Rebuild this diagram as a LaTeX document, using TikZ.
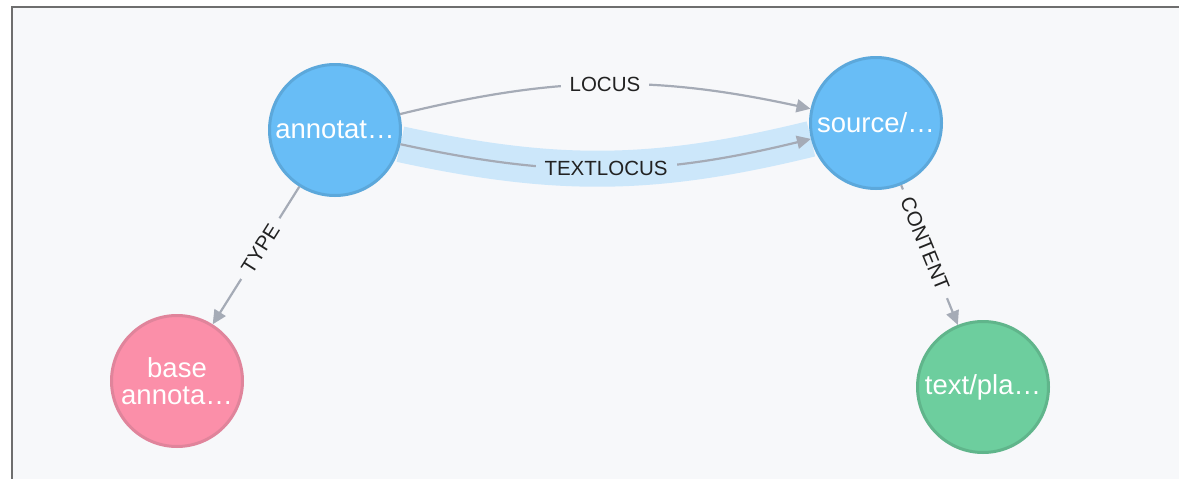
\documentclass[tikz,border=0pt]{standalone}
\usepackage{fontspec}
\setmainfont{Liberation Sans}
\usetikzlibrary{arrows.meta,backgrounds}
\definecolor{bgc}{HTML}{F7F8FA}
\definecolor{framec}{HTML}{6E6E6E}
\definecolor{bluef}{HTML}{68BDF6}
\definecolor{blueb}{HTML}{5CA8DB}
\definecolor{pinkf}{HTML}{FB8FA9}
\definecolor{pinkb}{HTML}{E0849B}
\definecolor{greenf}{HTML}{6DCE9E}
\definecolor{greenb}{HTML}{60B58B}
\definecolor{edgec}{HTML}{A5ABB6}
\definecolor{haloc}{HTML}{CCE7FA}
\definecolor{labc}{HTML}{222222}
\begin{document}
\begin{tikzpicture}[x=1pt,y=-1pt,
  nd/.style={circle, minimum size=131pt, inner sep=0pt, line width=3pt, text=white,
    align=center, font=\fontsize{27.5}{27}\selectfont},
  edge/.style={draw=edgec, line width=2.2pt, -{Triangle[length=14pt,width=13pt]}},
  elabel/.style={font=\fontsize{20.5}{24}\selectfont, text=labc, fill=bgc, inner xsep=9pt, inner ysep=1pt},
  halo/.style={draw=haloc, line width=36pt}]
\useasboundingbox (0,0) rectangle (1179,479);
\node[nd, fill=bluef, draw=blueb] (a) at (335,130) {annotat…};
\node[nd, fill=bluef, draw=blueb] (s) at (876,123) {source/…};
\node[nd, fill=pinkf, draw=pinkb] (b) at (177,381) {base\\annota…};
\node[nd, fill=greenf, draw=greenb] (t) at (983,387) {text/pla…};
\begin{scope}[on background layer]
  \fill[white] (0,0) rectangle (1179,479);
  \fill[bgc] (12,7) rectangle (1179,479);
  \draw[framec, line width=2pt] (12,479) -- (12,7) -- (1179,7);
  \draw[halo] (a) to[bend right=13] (s);
\end{scope}
\draw[edge] (a) to[bend left=13] node[elabel] (l1) {LOCUS} (s);
\draw[edge] (a) to[bend right=13] node[elabel, fill=haloc] (l2) {TEXTLOCUS} (s);
\draw[edge] (a) -- node[elabel, sloped, pos=0.45] (l3) {TYPE} (b);
\draw[edge] (s) -- node[elabel, sloped, pos=0.42] (l4) {CONTENT} (t);
\end{tikzpicture}
\end{document}
